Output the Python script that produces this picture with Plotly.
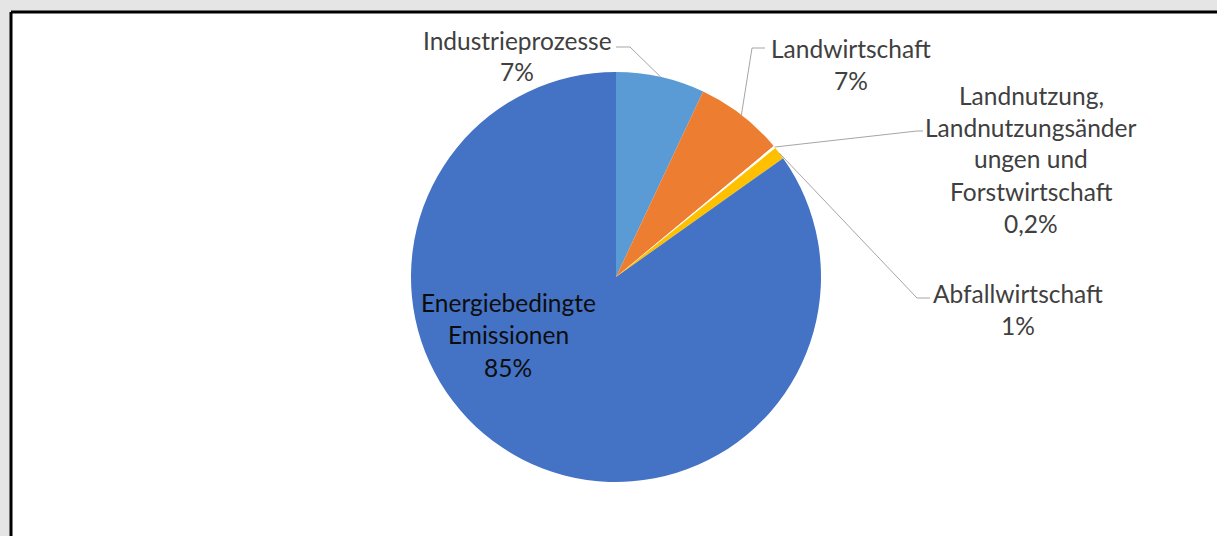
import math
import plotly.graph_objects as go

# Treibhausgasemissionen nach Quellgruppe (Anteile in %)
categories = [
    "Industrieprozesse",
    "Landwirtschaft",
    "Landnutzung, Landnutzungsänderungen und Forstwirtschaft",
    "Abfallwirtschaft",
    "Energiebedingte Emissionen",
]
shares = [7, 7, 0.2, 1, 85]
share_labels = ["7%", "7%", "0,2%", "1%", "85%"]
colors = ["#5B9BD5", "#ED7D31", "#FFFFFF", "#FFC000", "#4472C4"]

W, H = 1217, 536
CX, CY, R = 616, 277, 205          # pie centre and radius in pixels
FONT = "Lato"
FS = 24.5
TXT = "#404040"
LINE_GAP = 32


def px(x):
    return x / W


def py(y):
    return 1 - y / H


fig = go.Figure()
fig.add_trace(go.Pie(
    labels=categories,
    values=shares,
    sort=False,
    direction="clockwise",
    rotation=0,
    marker=dict(colors=colors, line=dict(width=0)),
    textinfo="none",
    hoverinfo="label+percent",
    showlegend=False,
    domain=dict(x=[px(CX - R), px(CX + R)], y=[py(CY + R), py(CY - R)]),
))

# slice mid-angles (degrees clockwise from 12 o'clock) derived from the data
total = sum(shares)
mids = []
acc = 0
for v in shares:
    mids.append((acc + v / 2) / total * 360)
    acc += v


def edge(i, rr=R):
    a = math.radians(mids[i])
    return CX + rr * math.sin(a), CY - rr * math.cos(a)


annotations = []
shapes = []


def text_block(lines, x, y0, color=TXT, gap=LINE_GAP):
    for k, t in enumerate(lines):
        annotations.append(dict(
            x=px(x), y=py(y0 + k * gap), xref="paper", yref="paper",
            text=t, showarrow=False, xanchor="center", yanchor="middle",
            font=dict(family=FONT, size=FS, color=color),
        ))


def leader(points):
    path = "M " + " L ".join(f"{px(x)},{py(y)}" for x, y in points)
    shapes.append(dict(type="path", xref="paper", yref="paper", path=path,
                       line=dict(color="#A6A6A6", width=1)))


# white chart area with its top and left frame lines
shapes.append(dict(type="rect", xref="paper", yref="paper",
                   x0=px(11), x1=1, y0=0, y1=py(12),
                   fillcolor="white", line=dict(width=0), layer="below"))
shapes.append(dict(type="line", xref="paper", yref="paper",
                   x0=px(11), x1=1, y0=py(12), y1=py(12),
                   line=dict(color="black", width=3)))
shapes.append(dict(type="line", xref="paper", yref="paper",
                   x0=px(11), x1=px(11), y0=0, y1=py(12),
                   line=dict(color="black", width=3)))

# Industrieprozesse
text_block(["Industrieprozesse", share_labels[0]], 517, 40)
leader([(616, 47), (630, 47), edge(0)])

# Landwirtschaft
text_block(["Landwirtschaft", share_labels[1]], 851, 48)
leader([(765, 48), (752, 48), edge(1)])

# Landnutzung ...
text_block(["Landnutzung,", "Landnutzungsänder", "ungen und",
            "Forstwirtschaft", share_labels[2]], 1031, 95)
leader([(923, 131), (917, 131), edge(2)])

# Abfallwirtschaft
text_block(["Abfallwirtschaft", share_labels[3]], 1018, 293)
leader([edge(3), (917, 298), (930, 298)])

# Energiebedingte Emissionen (inside the slice)
text_block(["Energiebedingte", "Emissionen", share_labels[4]], 508, 302,
           color="#0D0D0D", gap=32.5)

fig.update_layout(
    width=W, height=H,
    margin=dict(l=0, r=0, t=0, b=0),
    paper_bgcolor="#E5E5E5",
    plot_bgcolor="white",
    shapes=shapes,
    annotations=annotations,
)

fig.write_html("out.html")
